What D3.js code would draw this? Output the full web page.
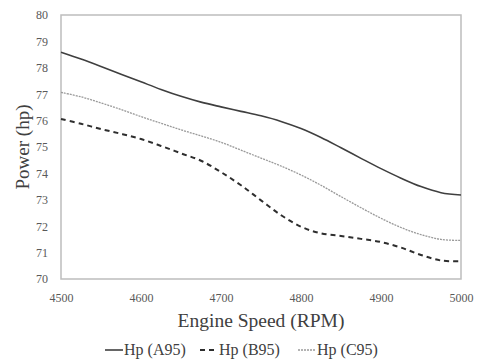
<!DOCTYPE html>
<html>
<head>
<meta charset="utf-8">
<script src="https://cdn.jsdelivr.net/npm/d3@7"></script>
<style>
  body { margin: 0; background: #fff; }
  text { font-family: "Liberation Serif", "Times New Roman", serif; }
</style>
</head>
<body>
<div id="chart-area"></div>
<script>
// engine speed (RPM)
const rpm = [4500, 4525, 4550, 4575, 4600, 4625, 4650, 4675, 4700, 4725, 4750,
             4775, 4800, 4825, 4850, 4875, 4900, 4925, 4950, 4975, 5000]
// power (hp) per fuel
const hpA95 = [78.59, 78.33, 78.05, 77.76, 77.47, 77.18, 76.92, 76.7, 76.52, 76.35, 76.18,
               75.97, 75.7, 75.36, 74.97, 74.57, 74.18, 73.82, 73.5, 73.27, 73.18]
const hpB95 = [76.06, 75.88, 75.68, 75.5, 75.3, 75.04, 74.76, 74.48, 74.05, 73.55, 72.98,
               72.42, 71.98, 71.73, 71.63, 71.52, 71.4, 71.19, 70.91, 70.7, 70.67]
const hpC95 = [77.07, 76.9, 76.67, 76.42, 76.15, 75.9, 75.65, 75.42, 75.18, 74.88, 74.58,
               74.28, 73.94, 73.55, 73.12, 72.7, 72.3, 71.95, 71.68, 71.5, 71.46]
const seriesNames = ["Hp (A95)", "Hp (B95)", "Hp (C95)"]
const xTicks = [4500, 4600, 4700, 4800, 4900, 5000]
const yTicks = [70, 71, 72, 73, 74, 75, 76, 77, 78, 79, 80]

function drawChart() {
    const svgWidth = 479
    const svgHeight = 360
    const margin = { left: 61, right: 18, top: 15, bottom: 81 }
    const chartWidth = svgWidth - margin.left - margin.right
    const chartHeight = svgHeight - margin.top - margin.bottom

    const svg = d3.select("#chart-area")
        .append("svg")
        .attr("width", svgWidth)
        .attr("height", svgHeight)

    const chart = svg.append("g")
        .attr("transform", `translate(${margin.left},${margin.top})`)

    const xScale = d3.scaleLinear()
        .domain([4500, 5000])
        .range([0, chartWidth])

    const yScale = d3.scaleLinear()
        .domain([70, 80])
        .range([chartHeight, 0])

    // plot frame
    chart.append("rect")
        .attr("width", chartWidth)
        .attr("height", chartHeight)
        .attr("fill", "none")
        .attr("stroke", "#bdbdbd")
        .attr("stroke-width", 1.5)

    const xAxis = chart.append("g")
        .attr("transform", `translate(0,${chartHeight})`)
        .call(d3.axisBottom(xScale).tickValues(xTicks).tickSize(0).tickPadding(14).tickFormat(d3.format("d")))
    xAxis.select(".domain").remove()
    xAxis.selectAll("text")
        .attr("font-size", 12)
        .attr("fill", "#595959")

    const yAxis = chart.append("g")
        .call(d3.axisLeft(yScale).tickValues(yTicks).tickSize(0).tickPadding(13))
    yAxis.select(".domain").remove()
    yAxis.selectAll("text")
        .attr("font-size", 12)
        .attr("fill", "#595959")

    const series = [
        { name: seriesNames[0], values: hpA95, color: "#3f3f3f", width: 1.6, dash: null },
        { name: seriesNames[1], values: hpB95, color: "#2e2e2e", width: 2, dash: "5,4" },
        { name: seriesNames[2], values: hpC95, color: "#9a9a9a", width: 1.3, dash: "2,1" }
    ]

    const lineGenerator = d3.line()
        .x((d, i) => xScale(rpm[i]))
        .y(d => yScale(d))
        .curve(d3.curveCatmullRom.alpha(0.5))

    chart.selectAll(".line")
        .data(series)
        .join("path")
        .attr("class", "line")
        .attr("d", d => lineGenerator(d.values))
        .attr("fill", "none")
        .attr("stroke", d => d.color)
        .attr("stroke-width", d => d.width)
        .attr("stroke-dasharray", d => d.dash)

    // axis titles
    svg.append("text")
        .attr("x", margin.left + chartWidth / 2)
        .attr("y", 327)
        .attr("text-anchor", "middle")
        .attr("font-size", 19.5)
        .attr("fill", "#404040")
        .text("Engine Speed (RPM)")

    svg.append("text")
        .attr("transform", `translate(29,${margin.top + chartHeight / 2}) rotate(-90)`)
        .attr("text-anchor", "middle")
        .attr("font-size", 19)
        .attr("fill", "#404040")
        .text("Power (hp)")

    // legend
    const legendX = [105, 200, 298]
    const legend = svg.selectAll(".legend")
        .data(series)
        .join("g")
        .attr("class", "legend")
        .attr("transform", (d, i) => `translate(${legendX[i]},350)`)

    legend.append("line")
        .attr("x1", 0)
        .attr("x2", 18)
        .attr("stroke", d => d.color)
        .attr("stroke-width", d => d.width)
        .attr("stroke-dasharray", d => d.dash)

    legend.append("text")
        .attr("x", 19)
        .attr("y", 5)
        .attr("font-size", 16)
        .attr("fill", "#404040")
        .text(d => d.name)
}

drawChart()
</script>
</body>
</html>
